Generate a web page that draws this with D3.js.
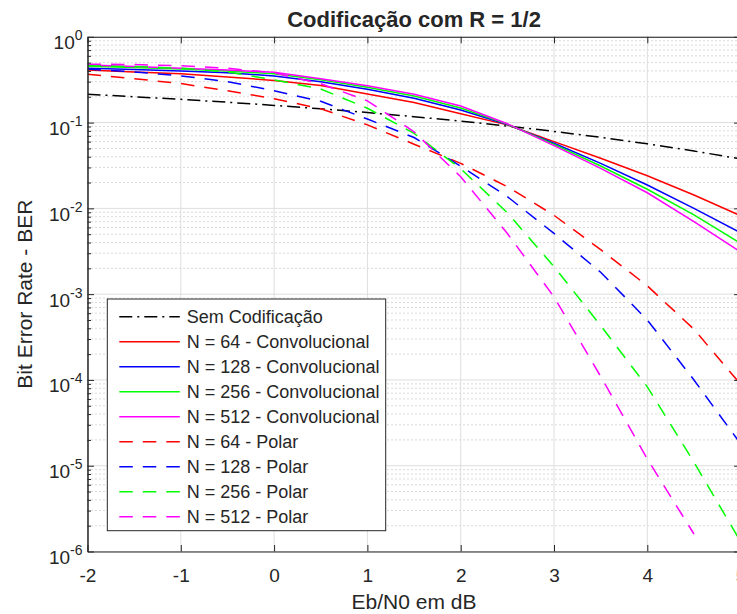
<!DOCTYPE html>
<html>
<head>
<meta charset="utf-8">
<script src="https://d3js.org/d3.v7.min.js"></script>
<style>
  body { margin: 0; background: #fff; }
  text { font-family: "Liberation Sans", Arial, Helvetica, sans-serif; fill: #262626; }
</style>
</head>
<body>
<script>
// Eb/N0 points (dB)
var ebn0 = [-2, -1.5, -1, -0.5, 0, 0.5, 1, 1.5, 2, 2.5, 3, 3.5, 4, 4.5, 5];

// BER values
var semCodificacao = [0.2135, 0.2001, 0.1865, 0.1726, 0.1587, 0.1448, 0.1309, 0.1173, 0.1040, 0.0912, 0.0789, 0.0673, 0.0565, 0.0466, 0.0377];

var conv64  = [0.41, 0.39, 0.37, 0.34, 0.31, 0.27, 0.215, 0.171, 0.127, 0.094, 0.060, 0.0384, 0.024, 0.0143, 0.0082];
var conv128 = [0.43, 0.415, 0.40, 0.38, 0.35, 0.30, 0.244, 0.192, 0.140, 0.095, 0.0574, 0.0335, 0.0187, 0.0100, 0.0052];
var conv256 = [0.455, 0.44, 0.42, 0.40, 0.37, 0.315, 0.258, 0.204, 0.148, 0.096, 0.0558, 0.0312, 0.0167, 0.0084, 0.0039];
var conv512 = [0.47, 0.45, 0.43, 0.41, 0.385, 0.325, 0.269, 0.214, 0.156, 0.097, 0.0538, 0.0293, 0.0152, 0.0070, 0.0031];

var polar64  = [0.365, 0.325, 0.285, 0.235, 0.19, 0.145, 0.094, 0.056, 0.0335, 0.0179, 0.0083, 0.0033, 0.00125, 0.00039, 0.000089];
var polar128 = [0.42, 0.39, 0.35, 0.30, 0.235, 0.177, 0.11, 0.067, 0.031, 0.0137, 0.0051, 0.0018, 0.0005, 0.0001, 0.000018];
var polar256 = [0.46, 0.45, 0.43, 0.39, 0.315, 0.246, 0.147, 0.075, 0.029, 0.0089, 0.0021, 0.00043, 0.000083, 0.000011, 0.0000013];
var polar512 = [0.48, 0.475, 0.46, 0.43, 0.38, 0.284, 0.179, 0.078, 0.0234, 0.0051, 0.00093, 0.00011, 0.000012, 0.0000016];

var legendLabels = [
  "Sem Codificação",
  "N = 64 - Convolucional", "N = 128 - Convolucional", "N = 256 - Convolucional", "N = 512 - Convolucional",
  "N = 64 - Polar", "N = 128 - Polar", "N = 256 - Polar", "N = 512 - Polar"
];

var xTicks = [-2, -1, 0, 1, 2, 3, 4, 5];
var yTicks = [1e-6, 1e-5, 1e-4, 1e-3, 1e-2, 1e-1, 1];
var yExponents = [-6, -5, -4, -3, -2, -1, 0];

// series table (data + look)
var series = [
  {label: legendLabels[0], values: semCodificacao, color: "#000000", dash: "13,5,2,5"},
  {label: legendLabels[1], values: conv64,  color: "#ff0000", dash: null},
  {label: legendLabels[2], values: conv128, color: "#0000ff", dash: null},
  {label: legendLabels[3], values: conv256, color: "#00ff00", dash: null},
  {label: legendLabels[4], values: conv512, color: "#ff00ff", dash: null},
  {label: legendLabels[5], values: polar64,  color: "#ff0000", dash: "13.5,10"},
  {label: legendLabels[6], values: polar128, color: "#0000ff", dash: "13.5,10"},
  {label: legendLabels[7], values: polar256, color: "#00ff00", dash: "13.5,10"},
  {label: legendLabels[8], values: polar512, color: "#ff00ff", dash: "13.5,10"}
];

var svgWidth = 737;
var svgHeight = 614;

var margin = {top: 36.8, left: 87.5};
var width = 653.1;
var height = 514.7;

var axisColor = "#262626";

var svg = d3.select("body")
  .append("svg")
  .attr("width", svgWidth)
  .attr("height", svgHeight);

var chart = svg.append("g")
  .attr("transform", `translate(${margin.left}, ${margin.top})`);

var x = d3.scaleLinear()
  .domain([-2, 5])
  .range([0, width]);

var y = d3.scaleLog()
  .domain([1e-6, 1])
  .range([height, 0]);

// minor log values 2..9 x 10^k
var minorTicks = [];
for (var k = -6; k < 0; k++) {
  for (var m = 2; m <= 9; m++) minorTicks.push(m * Math.pow(10, k));
}

// minor grid (dotted)
chart.append("g").selectAll("line")
  .data(minorTicks)
  .enter().append("line")
  .attr("x1", 0).attr("x2", width)
  .attr("y1", d => y(d)).attr("y2", d => y(d))
  .attr("stroke", "#b4b4b4")
  .attr("stroke-width", 1)
  .attr("stroke-dasharray", "1,3");

// major grid
chart.append("g").selectAll("line")
  .data(yTicks)
  .enter().append("line")
  .attr("x1", 0).attr("x2", width)
  .attr("y1", d => y(d)).attr("y2", d => y(d))
  .attr("stroke", "#dedede")
  .attr("stroke-width", 1);

chart.append("g").selectAll("line")
  .data(xTicks)
  .enter().append("line")
  .attr("x1", d => x(d)).attr("x2", d => x(d))
  .attr("y1", 0).attr("y2", height)
  .attr("stroke", "#dedede")
  .attr("stroke-width", 1);

// curves
chart.append("clipPath").attr("id", "plotClip")
  .append("rect").attr("width", width).attr("height", height);

var line = d3.line()
  .x((d, i) => x(ebn0[i]))
  .y(d => y(d));

chart.append("g")
  .attr("clip-path", "url(#plotClip)")
  .selectAll("path")
  .data(series)
  .enter().append("path")
  .attr("d", d => line(d.values))
  .attr("fill", "none")
  .attr("stroke", d => d.color)
  .attr("stroke-width", 1.5)
  .attr("stroke-dasharray", d => d.dash);

// axes (ticks pointing inward)
function styleAxis(g) {
  g.selectAll("path").attr("stroke", axisColor).attr("stroke-width", 1);
  g.selectAll("line").attr("stroke", axisColor).attr("stroke-width", 1);
}

var xAxis = chart.append("g")
  .attr("transform", `translate(0, ${height})`)
  .call(d3.axisBottom(x).tickValues(xTicks).tickSize(-6.5).tickSizeOuter(0)
    .tickPadding(17).tickFormat(d => String(d)))
  .call(styleAxis);

xAxis.selectAll("text")
  .attr("font-size", "19px")
  .attr("font-family", "Liberation Sans, Arial, sans-serif")
  .attr("fill", axisColor);

chart.append("g")
  .call(d3.axisTop(x).tickValues(xTicks).tickSize(-6.5).tickSizeOuter(0).tickFormat(""))
  .call(styleAxis);

chart.append("g")
  .call(d3.axisLeft(y).tickValues(yTicks).tickSize(-6.5).tickSizeOuter(0).tickFormat(""))
  .call(styleAxis);

chart.append("g")
  .call(d3.axisLeft(y).tickValues(minorTicks).tickSize(-3.5).tickSizeOuter(0).tickFormat(""))
  .call(styleAxis);

chart.append("g")
  .attr("transform", `translate(${width}, 0)`)
  .call(d3.axisRight(y).tickValues(yTicks).tickSize(-6.5).tickSizeOuter(0).tickFormat(""))
  .call(styleAxis);

chart.append("g")
  .attr("transform", `translate(${width}, 0)`)
  .call(d3.axisRight(y).tickValues(minorTicks).tickSize(-3.5).tickSizeOuter(0).tickFormat(""))
  .call(styleAxis);

// y tick labels 10^k
var yLabels = chart.append("g").selectAll("text")
  .data(yTicks)
  .enter().append("text")
  .attr("x", -5)
  .attr("y", d => y(d) + 12.5)
  .attr("text-anchor", "end")
  .attr("font-size", "19px");

yLabels.append("tspan").text("10");
yLabels.append("tspan")
  .attr("dy", -9)
  .attr("font-size", "14px")
  .text((d, i) => String(yExponents[i]));

// title and axis labels
svg.append("text")
  .attr("x", margin.left + width / 2)
  .attr("y", 27)
  .attr("text-anchor", "middle")
  .attr("font-size", "22px")
  .attr("font-weight", "bold")
  .attr("fill", "#000")
  .text("Codificação com R = 1/2");

svg.append("text")
  .attr("x", margin.left + width / 2)
  .attr("y", 609)
  .attr("text-anchor", "middle")
  .attr("font-size", "21px")
  .text("Eb/N0 em dB");

svg.append("text")
  .attr("transform", "rotate(-90)")
  .attr("x", -(margin.top + height / 2))
  .attr("y", 32)
  .attr("text-anchor", "middle")
  .attr("font-size", "21px")
  .text("Bit Error Rate - BER");

// legend
var legend = svg.append("g")
  .attr("transform", "translate(107.3, 299)");

legend.append("rect")
  .attr("width", 278.4)
  .attr("height", 231.7)
  .attr("fill", "#fff")
  .attr("stroke", axisColor)
  .attr("stroke-width", 1);

var legendRows = legend.selectAll(".row")
  .data(series)
  .enter().append("g")
  .attr("class", "row")
  .attr("transform", (d, i) => `translate(0, ${17.7 + i * 25})`);

legendRows.append("line")
  .attr("x1", 12).attr("x2", 72.5)
  .attr("y1", 0).attr("y2", 0)
  .attr("stroke", d => d.color)
  .attr("stroke-width", 1.5)
  .attr("stroke-dasharray", d => d.dash);

legendRows.append("text")
  .attr("x", 79.5)
  .attr("y", 6.3)
  .attr("font-size", "18px")
  .attr("fill", "#000")
  .text(d => d.label);
</script>
</body>
</html>
